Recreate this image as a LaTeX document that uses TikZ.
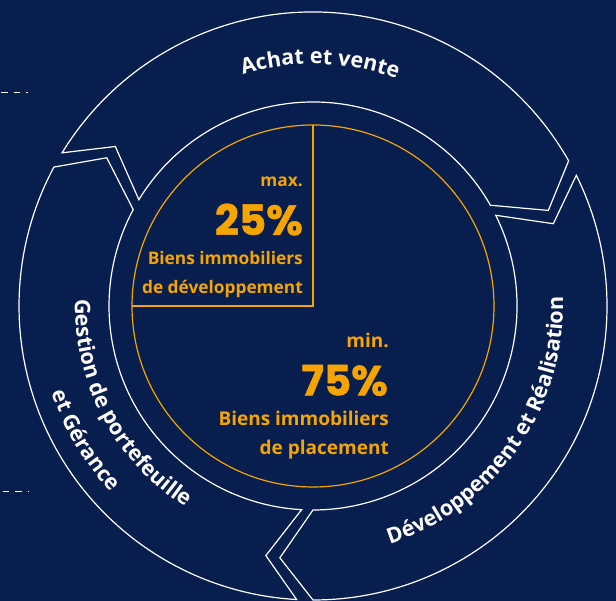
\documentclass[tikz,border=0pt]{standalone}
\usepackage{fontspec}
\setmainfont{Open Sans}
\newfontfamily\pctfont{Poppins}[BoldFeatures={FakeBold=1.2}]
\usetikzlibrary{decorations.text}
\definecolor{navy}{HTML}{081E4E}
\definecolor{gold}{HTML}{F5A400}
\newcommand\ringfmt{\color{white}\bfseries\fontsize{21.5}{21.5}\selectfont}
\begin{document}
\begin{tikzpicture}[x=1pt,y=1pt,
  ring/.style={draw=white, line width=1.2pt, line join=miter},
  sector/.style={draw=gold, line width=1.2pt},
  uptext/.style={text=gold, font=\bfseries\fontsize{17.3}{17.3}\selectfont, inner sep=0pt, anchor=base east},
  lowtext/.style={text=gold, font=\bfseries\fontsize{19}{19}\selectfont, inner sep=0pt, anchor=base east},
  pcttext/.style={text=gold, font=\pctfont\bfseries\fontsize{42}{42}\selectfont, inner sep=0pt, anchor=base east},
  leftdash/.style={draw=white, line width=1.2pt, dash pattern=on 6.5pt off 6pt}]
\useasboundingbox (0,0) rectangle (616,601);
\fill[navy] (0,0) rectangle (616,601);
\coordinate (C) at (313,295);

% ring segments (three clockwise arrows)
\begin{scope}[shift={(313,295)}]
\foreach \a/\b in {28/150.2, 150.2/268.4, -91.6/28} {
  \pgfmathsetmacro\s{\a+1.6}
  \pgfmathsetmacro\e{\b-1.6}
  \pgfmathsetmacro\sv{\s-7.5}
  \pgfmathsetmacro\ev{\e-7.5}
  \draw[ring] (\s:294pt) arc[start angle=\s, end angle=\e, radius=294pt]
    -- (\ev:254pt) -- (\e:204pt) arc[start angle=\e, end angle=\s, radius=204pt]
    -- (\sv:254pt) -- cycle;
}
% orange circle and quarter
\draw[sector] (0,0) circle[radius=181pt];
\draw[sector] (90:181pt) -- (0,0) -- (180:181pt);

% ring labels
\path[decorate, decoration={text along path, text={|\ringfmt|Achat et vente}, text align=center}]
  (128.3:242pt) arc[start angle=128.3, end angle=48.3, radius=242pt];
\path[decorate, decoration={text along path, text={|\ringfmt|Développement et Réalisation}, text align=center}]
  (-95:250pt) arc[start angle=-95, end angle=25, radius=250pt];
\path[decorate, decoration={text along path, text={|\ringfmt|Gestion de portefeuille}, text align=center}]
  (158:238pt) arc[start angle=158, end angle=258, radius=238pt];
\path[decorate, decoration={text along path, text={|\ringfmt|et Gérance}, text align=center}]
  (170.5:275pt) arc[start angle=170.5, end angle=250.5, radius=275pt];
\end{scope}

% centre texts
\node[uptext] (max) at (303,414) {max.};
\node[pcttext] (p25) at (303,366) {25\%};
\node[uptext] (b1) at (303,336.7) {Biens immobiliers};
\node[uptext] (d1) at (303,307.7) {de développement};
\node[lowtext] (min) at (389,253.3) {min.};
\node[pcttext] (p75) at (388,205.5) {75\%};
\node[lowtext] (b2) at (389,175.3) {Biens immobiliers};
\node[lowtext] (d2) at (389,146.7) {de placement};

% left dashes
\coordinate (d1a) at (1,508.7);
\coordinate (d1b) at (28,508.7);
\coordinate (d2a) at (2.5,109.3);
\coordinate (d2b) at (29,109.3);
\draw[leftdash] (d1a) -- (d1b);
\draw[leftdash] (d2a) -- (d2b);
\end{tikzpicture}
\end{document}
